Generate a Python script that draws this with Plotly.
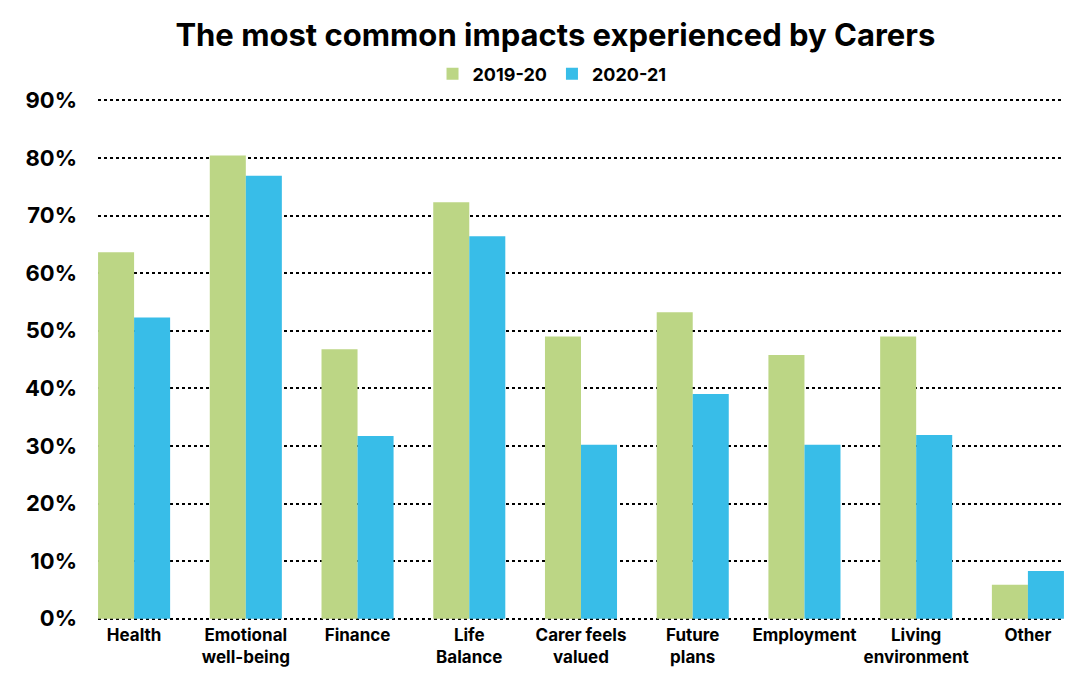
import plotly.graph_objects as go

categories = ["Health", "Emotional<br>well-being", "Finance", "Life<br>Balance",
              "Carer feels<br>valued", "Future<br>plans", "Employment",
              "Living<br>environment", "Other"]
values_2019 = [63.6, 80.4, 46.8, 72.3, 49.0, 53.2, 45.8, 49.0, 5.9]
values_2020 = [52.3, 76.9, 31.7, 66.4, 30.2, 39.0, 30.2, 31.9, 8.3]
tick_vals = [0, 10, 20, 30, 40, 50, 60, 70, 80, 90]
tick_text = [f"{v}%" for v in tick_vals]

FONT = "Inter"

fig = go.Figure()
fig.add_trace(go.Bar(name="2019-20", x=categories, y=values_2019,
                     marker=dict(color="#BCD685", line=dict(width=0))))
fig.add_trace(go.Bar(name="2020-21", x=categories, y=values_2020,
                     marker=dict(color="#38BDE8", line=dict(width=0))))

fig.update_layout(
    width=1086, height=683,
    paper_bgcolor="white", plot_bgcolor="white",
    margin=dict(l=90, r=30, t=89.7, b=69.7),
    barmode="group", bargap=0.355, bargroupgap=0,
    title=dict(text="<b>The most common impacts experienced by Carers</b>",
               xref="container", x=0.504, xanchor="center",
               yref="container", y=1 - 27 / 683, yanchor="middle",
               font=dict(family=FONT, size=31, color="black")),
    legend=dict(orientation="h", x=0.47, xanchor="center", y=1.046, yanchor="middle",
                font=dict(family=FONT, size=18, color="black", weight="bold"),
                itemwidth=30, tracegroupgap=0, traceorder="normal"),
    font=dict(family=FONT, color="black"),
    xaxis=dict(range=[-0.323, 8.323], showgrid=False, showline=False, ticks="",
               ticklabelstandoff=2,
               tickfont=dict(family=FONT, size=17, color="black", weight="bold")),
    yaxis=dict(range=[-0.4, 90.4], tickvals=tick_vals, ticktext=tick_text,
               showgrid=True, gridcolor="black", griddash="dot", gridwidth=2,
               zeroline=False, showline=False, ticks="", ticklabelstandoff=20,
               tickfont=dict(family=FONT, size=22, color="black", weight="bold")),
)

fig.write_html("out.html")
